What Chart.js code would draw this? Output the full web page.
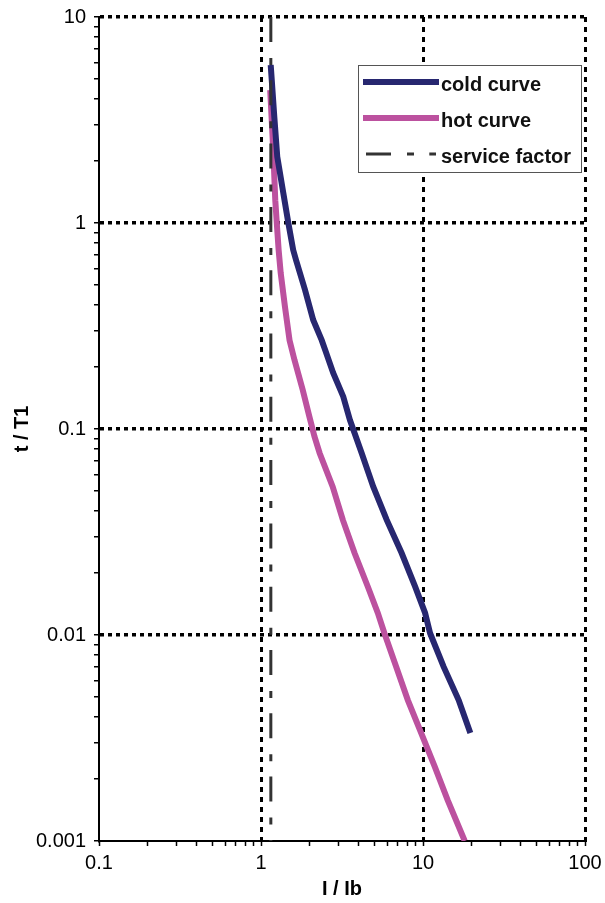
<!DOCTYPE html>
<html>
<head>
<meta charset="utf-8">
<script src="https://cdn.jsdelivr.net/npm/chart.js@4.4.1/dist/chart.umd.min.js"></script>
<style>
  html, body { margin: 0; padding: 0; background: #fff; }
  canvas { display: block; }
</style>
</head>
<body>
<canvas id="chart" width="605" height="903"></canvas>
<script>
// Axis decades and their labels
const X_DECADES = [0.1, 1, 10, 100];
const X_LABELS = ['0.1', '1', '10', '100'];
const Y_DECADES = [0.001, 0.01, 0.1, 1, 10];
const Y_LABELS = ['0.001', '0.01', '0.1', '1', '10'];

// Cold curve: current ratio I/Ib vs. time ratio t/T1
const COLD_I = [1.148, 1.208, 1.26, 1.373, 1.475, 1.58, 1.645, 1.87, 2.10, 2.37, 2.49, 2.79, 3.22, 3.54, 4.18, 4.93, 5.97, 7.38, 8.93, 10.3, 11.06, 13.4, 16.6, 19.6];
const COLD_T = [5.85, 3.28, 2.10, 1.40, 1.0, 0.740, 0.661, 0.473, 0.338, 0.270, 0.242, 0.187, 0.1435, 0.1106, 0.0765, 0.0525, 0.0362, 0.0250, 0.0172, 0.0128, 0.0102, 0.00702, 0.00483, 0.00334];

// Hot curve
const HOT_I = [1.14, 1.19, 1.225, 1.26, 1.285, 1.323, 1.406, 1.50, 1.61, 1.81, 1.99, 2.14, 2.30, 2.77, 3.20, 3.78, 4.56, 5.26, 5.78, 6.83, 8.06, 9.75, 11.8, 14.2, 18.1];
const HOT_T = [4.42, 2.26, 1.29, 0.925, 0.740, 0.572, 0.392, 0.270, 0.216, 0.1546, 0.1147, 0.0918, 0.0765, 0.0525, 0.0362, 0.0250, 0.0172, 0.0128, 0.0102, 0.00702, 0.00483, 0.00334, 0.00230, 0.00158, 0.001];

// Service factor (vertical line)
const SERVICE_FACTOR = 1.15;

const FONT_FAMILY = '"Liberation Sans", Arial, Helvetica, sans-serif';

const toPoints = (xs, ys) => xs.map((x, i) => ({ x: x, y: ys[i] }));

// 1..9 steps inside each decade, plus the closing decade
function logTicks(decades) {
  const out = [];
  for (let i = 0; i < decades.length - 1; i++) {
    for (let m = 1; m <= 9; m++) out.push(parseFloat((m * decades[i]).toPrecision(6)));
  }
  out.push(decades[decades.length - 1]);
  return out;
}

function decadeIndex(value, decades) {
  return decades.findIndex(d => Math.abs(Math.log10(value) - Math.log10(d)) < 1e-6);
}

function gridColor(decades) {
  return (ctx) => {
    if (!ctx.tick) return 'rgba(0,0,0,0)';
    const idx = decadeIndex(ctx.tick.value, decades);
    return idx > 0 ? '#000' : 'rgba(0,0,0,0)';
  };
}

// Legend box drawn inside the plot area
const legendBox = {
  id: 'legendBox',
  afterDraw(chart) {
    const { ctx, chartArea } = chart;
    const w = 223, h = 107;
    const left = chartArea.right - 227;
    const top = chartArea.top + 48;
    ctx.save();
    ctx.fillStyle = '#fff';
    ctx.fillRect(left, top, w, h);
    ctx.strokeStyle = '#555';
    ctx.lineWidth = 1;
    ctx.strokeRect(left + 0.5, top + 0.5, w, h);
    ctx.font = 'bold 20px ' + FONT_FAMILY;
    ctx.textBaseline = 'middle';
    ctx.textAlign = 'left';
    chart.data.datasets.forEach((ds, i) => {
      const y = top + 17 + i * 36;
      const dashed = ds.borderDash && ds.borderDash.length;
      ctx.beginPath();
      ctx.setLineDash(ds.borderDash || []);
      ctx.lineWidth = ds.borderWidth;
      ctx.strokeStyle = ds.borderColor;
      ctx.moveTo(left + (dashed ? 8 : 5), y);
      ctx.lineTo(left + (dashed ? 78 : 81), y);
      ctx.stroke();
      ctx.setLineDash([]);
      ctx.fillStyle = '#111';
      ctx.fillText(ds.label, left + 83, y + 3);
    });
    ctx.restore();
  }
};

Chart.defaults.color = '#000';
Chart.defaults.font.family = FONT_FAMILY;

new Chart(document.getElementById('chart'), {
  type: 'scatter',
  data: {
    datasets: [
      {
        label: 'cold curve',
        data: toPoints(COLD_I, COLD_T),
        showLine: true,
        borderColor: '#272770',
        borderWidth: 6,
        pointRadius: 0,
        tension: 0,
        order: 1
      },
      {
        label: 'hot curve',
        data: toPoints(HOT_I, HOT_T),
        showLine: true,
        borderColor: '#BC519F',
        borderWidth: 6,
        pointRadius: 0,
        tension: 0,
        order: 2
      },
      {
        label: 'service factor',
        data: [{ x: SERVICE_FACTOR, y: Y_DECADES[Y_DECADES.length - 1] }, { x: SERVICE_FACTOR, y: Y_DECADES[0] }],
        showLine: true,
        borderColor: '#333333',
        borderWidth: 3,
        borderDash: [25, 16, 7, 15.3],
        pointRadius: 0,
        tension: 0,
        order: 0
      }
    ]
  },
  options: {
    responsive: false,
    animation: false,
    devicePixelRatio: 1,
    layout: { padding: { top: 17, right: 20, bottom: 0, left: 0 } },
    plugins: {
      legend: { display: false },
      tooltip: { enabled: false },
      title: { display: false }
    },
    scales: {
      x: {
        type: 'logarithmic',
        min: X_DECADES[0],
        max: X_DECADES[X_DECADES.length - 1],
        afterBuildTicks: (scale) => { scale.ticks = logTicks(X_DECADES).map(v => ({ value: v })); },
        afterFit: (scale) => {
          scale.height = 62;
          scale.paddingLeft = 0;
          scale.paddingRight = 0;
        },
        ticks: {
          autoSkip: false,
          maxRotation: 0,
          padding: 5,
          font: { size: 20 },
          callback: (value) => {
            const idx = decadeIndex(value, X_DECADES);
            return idx >= 0 ? X_LABELS[idx] : '';
          }
        },
        grid: {
          color: gridColor(X_DECADES),
          lineWidth: 3,
          drawTicks: true,
          tickColor: '#000',
          tickWidth: 1.5,
          tickLength: 5
        },
        border: { display: true, color: '#000', width: 2, dash: [5, 5] },
        title: {
          display: true,
          text: 'I / Ib',
          font: { size: 20, weight: 'bold' },
          padding: { top: 0, bottom: 2 }
        }
      },
      y: {
        type: 'logarithmic',
        min: Y_DECADES[0],
        max: Y_DECADES[Y_DECADES.length - 1],
        afterBuildTicks: (scale) => { scale.ticks = logTicks(Y_DECADES).map(v => ({ value: v })); },
        afterFit: (scale) => {
          scale.width = 99;
          scale.paddingTop = 0;
          scale.paddingBottom = 0;
        },
        ticks: {
          autoSkip: false,
          padding: 8,
          font: { size: 20 },
          callback: (value) => {
            const idx = decadeIndex(value, Y_DECADES);
            return idx >= 0 ? Y_LABELS[idx] : '';
          }
        },
        grid: {
          color: gridColor(Y_DECADES),
          lineWidth: 3.5,
          drawTicks: true,
          tickColor: '#000',
          tickWidth: 1.5,
          tickLength: 5
        },
        border: { display: true, color: '#000', width: 2, dash: [4, 4] },
        title: {
          display: true,
          text: 't / T1',
          font: { size: 20, weight: 'bold' },
          padding: { top: 10, bottom: 0 }
        }
      }
    }
  },
  plugins: [legendBox]
});
</script>
</body>
</html>
